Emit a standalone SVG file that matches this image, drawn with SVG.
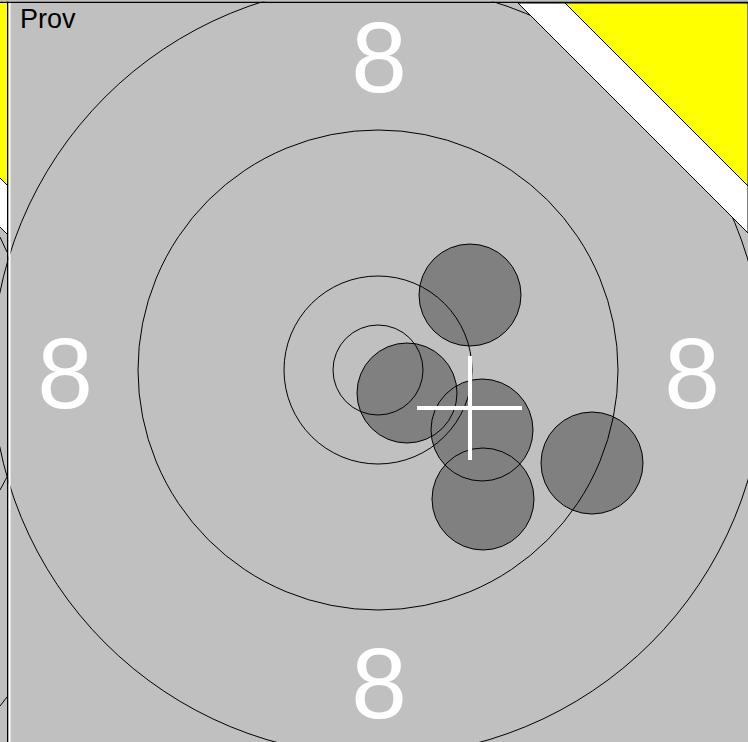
<svg xmlns="http://www.w3.org/2000/svg" width="748" height="742" viewBox="0 0 748 742">
<style>
.ring{fill:none;stroke:#000;stroke-width:1}
.hole{fill:#808080}
.holeline{fill:none;stroke:#000;stroke-width:1}
.num{font-family:"Liberation Sans",Arial,sans-serif;font-size:100px;fill:#fff;text-anchor:middle}
</style>
<defs>
<circle id="h1" cx="470" cy="295" r="51"/>
<circle id="h2" cx="407" cy="393" r="50"/>
<circle id="h3" cx="482" cy="430" r="51"/>
<circle id="h4" cx="483" cy="499" r="51"/>
<circle id="h5" cx="592" cy="463" r="51"/>
</defs>
<rect width="748" height="742" fill="#c0c0c0"/>
<g id="left-panel">
<rect x="0" y="0" width="8" height="742" fill="#c0c0c0"/>
<polygon points="0,0 8,0 8,186 0,178" fill="#ff0"/>
<polygon points="0,178 8,186 8,235 0,227" fill="#fff"/>
<line x1="0" y1="178" x2="8" y2="186" stroke="#000"/>
<line x1="0" y1="227" x2="8" y2="235" stroke="#000"/>
<path d="M0,237 L7,252 M0,490 L7,477 M0,706 L7,697" stroke="#000" fill="none"/>
</g>
<g id="holes">
<use href="#h1" class="hole"/>
<use href="#h2" class="hole"/>
<use href="#h3" class="hole"/>
<use href="#h4" class="hole"/>
<use href="#h5" class="hole"/>
</g>
<g id="target">
<circle class="ring" cx="378" cy="370" r="386"/>
<circle class="ring" cx="378" cy="370" r="240"/>
<circle class="ring" cx="378" cy="370" r="94"/>
<circle class="ring" cx="378" cy="370" r="45"/>
</g>
<g id="hole-outlines">
<use href="#h1" class="holeline"/>
<use href="#h2" class="holeline"/>
<use href="#h3" class="holeline"/>
<use href="#h4" class="holeline"/>
<use href="#h5" class="holeline"/>
</g>
<g id="corner">
<polygon points="518,3 748,233 748,3" fill="#fff" stroke="#000" stroke-width="1"/>
<polygon points="565,3 748,186 748,3" fill="#ff0" stroke="#000" stroke-width="1"/>
</g>
<g id="numbers">
<text class="num" x="379" y="92">8</text>
<text class="num" x="65" y="408">8</text>
<text class="num" x="692" y="408">8</text>
<text class="num" x="379" y="718">8</text>
</g>
<g id="crosshair" stroke="#fff" stroke-width="4">
<line x1="417" y1="408" x2="522" y2="408"/>
<line x1="470" y1="356" x2="470" y2="460"/>
</g>
<rect x="7" y="0" width="1.5" height="742" fill="#000"/>
<rect x="8.5" y="0" width="2" height="742" fill="#fff"/>
<rect x="0" y="1.5" width="748" height="1.5" fill="#000"/>
<rect x="0" y="0" width="748" height="1.5" fill="#c0c0c0"/>
<text x="20" y="28" font-family="Liberation Sans,Arial,sans-serif" font-size="27" fill="#000">Prov</text>
</svg>
